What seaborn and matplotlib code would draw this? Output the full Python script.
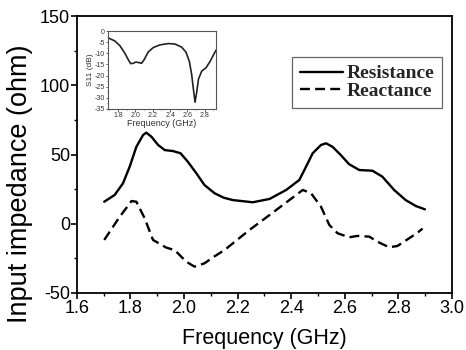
import numpy as np
import pandas as pd
import matplotlib
matplotlib.use("Agg")
import matplotlib.pyplot as plt
import seaborn as sns
from matplotlib.ticker import MultipleLocator

# ---- data ----
res_freq = [1.702, 1.741, 1.772, 1.797, 1.822, 1.847, 1.859, 1.878, 1.903, 1.928,
            1.959, 1.987, 2.014, 2.046, 2.076, 2.114, 2.148, 2.182, 2.256, 2.319,
            2.381, 2.430, 2.449, 2.480, 2.511, 2.530, 2.554, 2.585, 2.616, 2.654,
            2.703, 2.740, 2.784, 2.827, 2.865, 2.899]
res_val = [15.9, 20.8, 29.2, 41.2, 55.6, 64.1, 65.8, 62.9, 56.9, 53.2,
           52.5, 50.9, 44.8, 36.4, 28.0, 22.0, 18.8, 17.1, 15.5, 17.9,
           24.4, 31.6, 38.8, 50.9, 56.9, 58.1, 55.6, 49.6, 43.0, 38.8,
           38.3, 34.0, 24.4, 17.1, 12.8, 10.4]

rea_freq = [1.702, 1.760, 1.804, 1.822, 1.853, 1.884, 1.934, 1.965, 2.008, 2.039,
            2.076, 2.114, 2.151, 2.244, 2.319, 2.393, 2.443, 2.474, 2.511, 2.542,
            2.573, 2.616, 2.647, 2.691, 2.722, 2.765, 2.796, 2.840, 2.873, 2.890]
rea_val = [-11.7, 5.1, 16.4, 15.9, 3.9, -11.7, -17.3, -19.0, -27.4, -31.0,
           -28.6, -23.5, -19.0, -4.5, 6.3, 17.1, 24.4, 22.0, 12.3, -0.9,
           -6.9, -9.8, -8.8, -9.3, -13.0, -17.0, -16.1, -10.5, -6.2, -3.5]

s11_freq = [1.684, 1.761, 1.819, 1.877, 1.916, 1.943, 1.974, 2.004, 2.043, 2.070,
            2.101, 2.147, 2.205, 2.282, 2.379, 2.456, 2.533, 2.584, 2.622, 2.649,
            2.669, 2.688, 2.707, 2.727, 2.765, 2.815, 2.862, 2.931]
s11_val = [-3.0, -4.4, -6.5, -9.9, -12.8, -14.6, -14.5, -13.9, -14.2, -14.5,
           -12.8, -9.4, -7.4, -6.2, -5.6, -5.8, -7.2, -9.5, -13.6, -19.5,
           -26.1, -32.0, -27.6, -21.7, -18.0, -16.5, -13.6, -8.5]

main_xticks = [1.6, 1.8, 2.0, 2.2, 2.4, 2.6, 2.8, 3.0]
main_yticks = [-50, 0, 50, 100, 150]
inset_xticks = [1.8, 2.0, 2.2, 2.4, 2.6, 2.8]
inset_yticks = [0, -5, -10, -15, -20, -25, -30, -35]

sns.set_theme(style="ticks")
plt.rcParams['font.family'] = ['Liberation Sans', 'DejaVu Sans']

fig = plt.figure(figsize=(4.66, 3.5), dpi=100)
ax = fig.add_axes([0.165, 0.163, 0.805, 0.791])

sns.lineplot(x=res_freq, y=res_val, ax=ax, color="black", lw=1.7,
             label="Resistance")
sns.lineplot(x=rea_freq, y=rea_val, ax=ax, color="black", lw=1.7,
             label="Reactance")
for ln in ax.lines:
    ln.set_solid_joinstyle("round")
    ln.set_dash_joinstyle("round")
ax.lines[1].set_dashes([4.2, 2.2])

ax.set_xlim(1.6, 3.0)
ax.set_ylim(-50, 150)
ax.set_xticks(main_xticks)
ax.set_xticklabels([f"{v:.1f}" for v in main_xticks])
ax.set_yticks(main_yticks)
ax.set_yticklabels([str(v) for v in main_yticks])
ax.xaxis.set_minor_locator(MultipleLocator(0.1))
ax.yaxis.set_minor_locator(MultipleLocator(25))
ax.tick_params(which="major", direction="out", length=4, width=1.2,
               labelsize=13, pad=1, color="black", labelcolor="black")
ax.tick_params(which="minor", direction="out", length=2.5, width=1.0, color="black")
for sp in ax.spines.values():
    sp.set_visible(True)
    sp.set_color("black")
    sp.set_linewidth(1.3)
ax.set_xlabel("Frequency (GHz)", fontsize=15.5, labelpad=8, color="black")
ax.set_ylabel("Input impedance (ohm)", fontsize=19.5, labelpad=4, color="black")
ax.yaxis.set_label_coords(-0.118, 0.394)

leg = ax.legend(loc="upper right", bbox_to_anchor=(0.973, 0.852),
                borderaxespad=0.0,
                prop={"family": "Liberation Serif", "weight": "bold", "size": 14},
                frameon=True, fancybox=False, handlelength=2.25,
                handletextpad=0.15, borderpad=0.4, labelspacing=0.0)
leg.get_frame().set_edgecolor("#666666")
leg.get_frame().set_linewidth(0.9)
leg.get_frame().set_alpha(1.0)

# ---- inset ----
ins = fig.add_axes([0.232, 0.689, 0.2315, 0.222])
sns.lineplot(x=s11_freq, y=s11_val, ax=ins, color="#222222", lw=1.2)
ins.lines[0].set_solid_joinstyle("round")
ins.set_xlim(1.684, 2.93)
ins.set_ylim(-35, 0)
ins.set_xticks(inset_xticks)
ins.set_xticklabels([f"{v:.1f}" for v in inset_xticks])
ins.set_yticks(inset_yticks)
ins.set_yticklabels([str(v) for v in inset_yticks])
ins.xaxis.set_minor_locator(MultipleLocator(0.1))
ins.yaxis.set_minor_locator(MultipleLocator(2.5))
ins.tick_params(which="major", direction="out", length=1.8, width=0.6,
                labelsize=5, pad=0.8, color="#444444", labelcolor="#333333")
ins.tick_params(which="minor", direction="out", length=1.0, width=0.5, color="#444444")
for sp in ins.spines.values():
    sp.set_visible(True)
    sp.set_color("#555555")
    sp.set_linewidth(0.8)
ins.set_xlabel("Frequency (GHz)", fontsize=6.5, labelpad=0, color="#333333")
ins.set_ylabel("S11 (dB)", fontsize=6, labelpad=0, color="#333333")

fig.savefig("out.png", dpi=100)
